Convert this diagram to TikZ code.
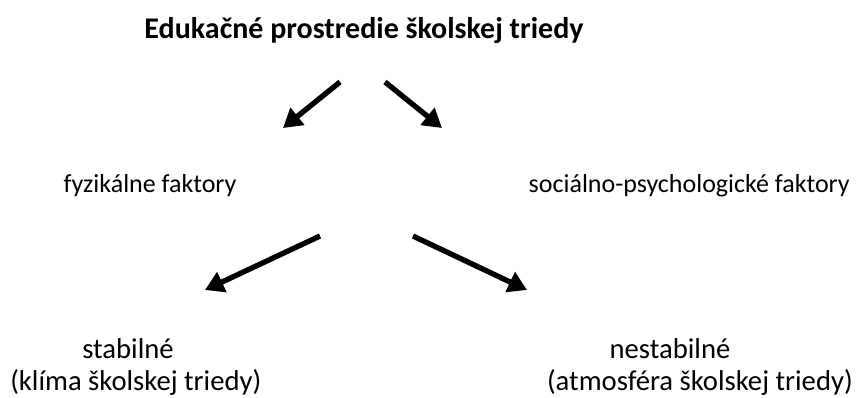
\documentclass[tikz,border=0pt]{standalone}
\usepackage{fontspec}
\setmainfont{Carlito}
\usetikzlibrary{arrows.meta,positioning}

\begin{document}
\begin{tikzpicture}[x=0.75pt, y=-0.75pt, ->, >={Triangle[length=14pt, width=16pt]},
	label/.style={inner sep=0pt, font=\fontsize{19.5}{23}\selectfont},
	leaf/.style={inner sep=0pt, font=\fontsize{21.5}{26}\selectfont},
	branch/.style={line width=4pt}]
	\useasboundingbox (0,0) rectangle (857,397);
	\node[label, font=\fontsize{22.5}{27}\selectfont\bfseries] (title) at (364,31) {Edukačné prostredie školskej triedy};
	\node[label] (phys) at (150,186) {fyzikálne faktory};
	\node[label, anchor=east] (soc) at (850,186) {sociálno-psychologické faktory};
	\node[leaf] (stab) at (128,349) {stabilné};
	\node[leaf, anchor=west] (stabnote) at (10,382) {(klíma školskej triedy)};
	\node[leaf] (nestab) at (670,349) {nestabilné};
	\node[leaf, anchor=east] (nestabnote) at (853,382) {(atmosféra školskej triedy)};

	% arrow ends
	\coordinate (t1) at (340,82);
	\coordinate (h1) at (283,128);
	\coordinate (t2) at (385,82);
	\coordinate (h2) at (442,128);
	\coordinate (t3) at (320,236);
	\coordinate (h3) at (205,290);
	\coordinate (t4) at (413,236);
	\coordinate (h4) at (527,290);

	\draw[branch] (t1) -- (h1);
	\draw[branch] (t2) -- (h2);
	\draw[branch] (t3) -- (h3);
	\draw[branch] (t4) -- (h4);
\end{tikzpicture}
\end{document}
